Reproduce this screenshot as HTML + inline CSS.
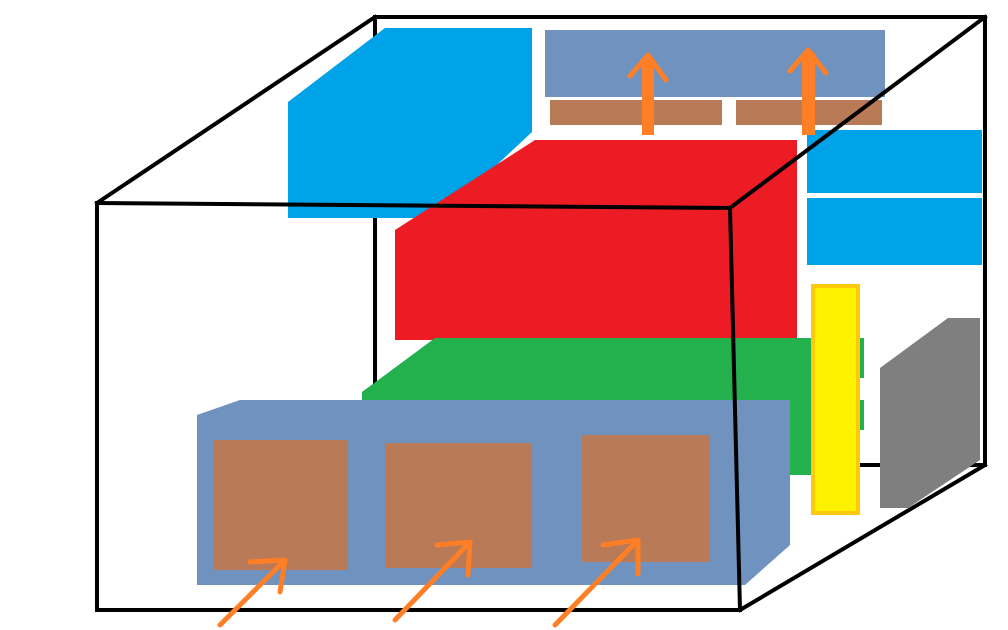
<!DOCTYPE html>
<html><head><meta charset="utf-8"><style>
html,body{margin:0;padding:0;background:#fff;}
svg{display:block;}
</style></head><body>
<svg width="1008" height="630" viewBox="0 0 1008 630" xmlns="http://www.w3.org/2000/svg">
<rect width="1008" height="630" fill="#fff"/>
<!-- back box lines -->
<g stroke="#000" stroke-width="4" fill="none" stroke-linecap="square">
<line x1="375" y1="17" x2="985" y2="17"/>
<line x1="985" y1="17" x2="985" y2="465"/>
<line x1="985" y1="465" x2="858" y2="465"/>
<line x1="375" y1="17" x2="375" y2="400"/>
<line x1="97" y1="203" x2="375" y2="17"/>
</g>
<!-- blue top-left -->
<polygon points="288,102 385,28 532,28 532,132 440,218 288,218" fill="#00a2e8"/>
<!-- steel blue top -->
<rect x="545" y="30" width="340" height="67" fill="#7092be"/>
<rect x="550" y="100" width="172" height="25" fill="#b97a57"/>
<rect x="736" y="100" width="146" height="25" fill="#b97a57"/>
<!-- red -->
<polygon points="395,230 535,140 797,140 797,340 395,340" fill="#ed1c24"/>
<!-- right blue -->
<rect x="807" y="130" width="175" height="63" fill="#00a2e8"/>
<rect x="807" y="198" width="175" height="67" fill="#00a2e8"/>
<!-- green -->
<polygon points="362,392 435,338 864,338 864,378 858,378 858,400 864,400 864,430 858,430 858,475 740,475 740,400 362,400" fill="#22b14c"/>
<!-- yellow -->
<rect x="813" y="286" width="45" height="227" fill="#fff200" stroke="#ffc90e" stroke-width="4"/>
<!-- gray -->
<polygon points="880,368 948,318 980,318 980,460 908,508 880,508" fill="#7f7f7f"/>
<!-- lower steel blue -->
<polygon points="197,415 240,400 790,400 790,545 745,585 197,585" fill="#7092be"/>
<rect x="213" y="440" width="135" height="130" fill="#b97a57"/>
<rect x="385" y="443" width="147" height="125" fill="#b97a57"/>
<rect x="582" y="435" width="128" height="127" fill="#b97a57"/>
<!-- top arrows -->
<rect x="642" y="58" width="12" height="77" fill="#ff7f27"/>
<rect x="802" y="53" width="13" height="82" fill="#ff7f27"/>
<g stroke="#ff7f27" stroke-width="5" fill="none" stroke-linecap="round" stroke-linejoin="round">
<polyline points="630,76 648,55 666,80"/>
<polyline points="790,71 808,50 826,73"/>
</g>
<!-- front box -->
<g stroke="#000" stroke-width="4" fill="none" stroke-linecap="square">
<line x1="97" y1="203" x2="730" y2="208"/>
<line x1="97" y1="203" x2="97" y2="610"/>
<line x1="97" y1="610" x2="740" y2="610"/>
<line x1="730" y1="208" x2="740" y2="610"/>
<line x1="740" y1="610" x2="985" y2="465"/>
<line x1="730" y1="208" x2="985" y2="17"/>
</g>
<!-- lower orange arrows -->
<g stroke="#ff7f27" stroke-width="5" fill="none" stroke-linecap="round" stroke-linejoin="round">
<line x1="220" y1="625" x2="285" y2="560"/>
<polyline points="250,562 285,560 280,592"/>
<line x1="395" y1="620" x2="470" y2="542"/>
<polyline points="437,545 470,542 468,575"/>
<line x1="555" y1="625" x2="638" y2="540"/>
<polyline points="603,545 638,540 638,574"/>
</g>
</svg>
</body></html>
